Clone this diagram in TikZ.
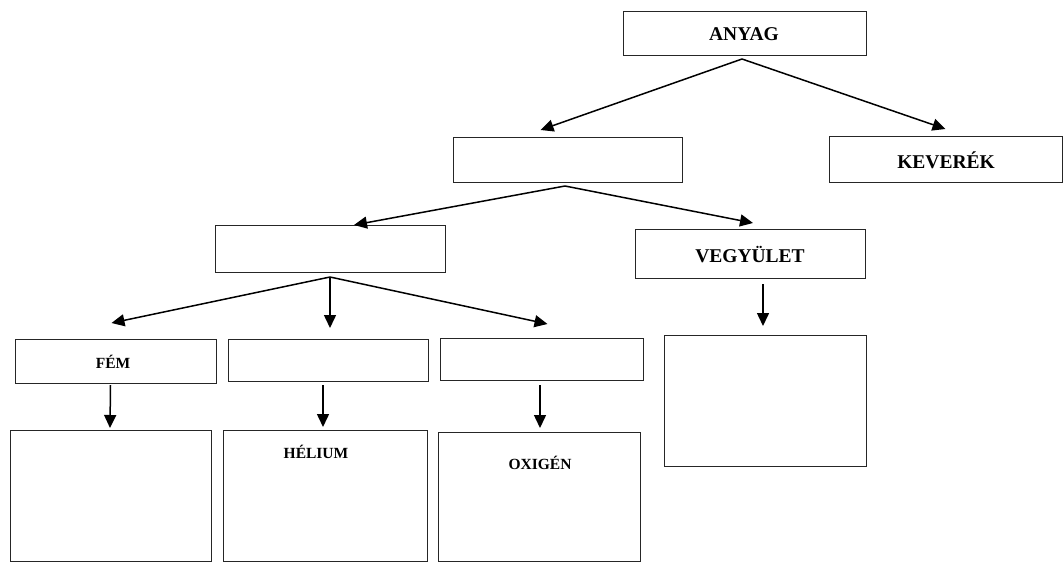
\documentclass[tikz,border=0pt]{standalone}
\usepackage{fontspec}
\setmainfont{Liberation Serif}
\usetikzlibrary{arrows.meta,calc}
\begin{document}
\begin{tikzpicture}[x=1pt,y=-1pt,
  box/.style={draw=black!85,line width=0.9pt,inner sep=0pt,outer sep=0pt},
  lab/.style={inner sep=0pt,font=\bfseries\fontsize{19.5}{21}\selectfont},
  slab/.style={inner sep=0pt,font=\bfseries\fontsize{15.5}{17}\selectfont},
  arr/.style={line width=1.5pt,-{Triangle[length=13pt,width=12pt]}}]
\useasboundingbox (0,0) rectangle (1064,562);
% boxes
\node[box,minimum width=243,minimum height=44] (anyag) at (744.5,33) {};
\node[lab] at (744,34) {ANYAG};
\node[box,minimum width=229,minimum height=45] (b2) at (567.5,159.5) {};
\node[box,minimum width=233,minimum height=46] (kev) at (945.5,159) {};
\node[lab] at (946,160) {KEVERÉK};
\node[box,minimum width=230,minimum height=47] (b3) at (330,248.5) {};
\node[box,minimum width=230,minimum height=49] (vegy) at (750,253.5) {};
\node[lab] at (750,255) {VEGYÜLET};
\node[box,minimum width=201,minimum height=44] (fem) at (115.5,361) {};
\node[slab] at (113,362) {FÉM};
\node[box,minimum width=200,minimum height=42] (b5) at (328,360) {};
\node[box,minimum width=203,minimum height=42] (b6) at (541.5,359) {};
\node[box,minimum width=202,minimum height=131] (vb) at (765,400.5) {};
\node[box,minimum width=201,minimum height=131] (f1) at (110.5,495.5) {};
\node[box,minimum width=204,minimum height=131] (f2) at (325,495.5) {};
\node[slab] at (316,452) {HÉLIUM};
\node[box,minimum width=202,minimum height=129] (f3) at (539,496.5) {};
\node[slab] at (540,463) {OXIGÉN};
% arrows
\coordinate (a0) at ($(anyag.south)+(-2.5,4)$);
\draw[arr] (a0) -- ($(b2.north)+(-27,-7)$);
\draw[arr] (a0) -- ($(kev.north)+(0,-7)$);
\coordinate (b0) at ($(b2.south)+(-2.5,4)$);
\draw[arr] (b0) -- ($(b3.north)+(24,0)$);
\draw[arr] (b0) -- ($(vegy.north)+(3,-6)$);
\coordinate (c0) at ($(b3.south)+(0,5)$);
\draw[arr] (c0) -- ($(fem.north)+(-4,-16)$);
\draw[arr] (c0) -- ($(b5.north)+(2,-11)$);
\draw[arr] (c0) -- ($(b6.north)+(6,-14)$);
\draw[arr] ($(vegy.south)+(13,6)$) -- ($(vb.north)+(-2,-9)$);
\draw[arr] ($(fem.south)+(-5,2)$) -- ($(f1.north)+(-0.5,-2)$);
\draw[arr] ($(b5.south)+(-5,4)$) -- ($(f2.north)+(-2,-3)$);
\draw[arr] ($(b6.south)+(-1.5,5)$) -- ($(f3.north)+(1,-4)$);
\end{tikzpicture}
\end{document}
